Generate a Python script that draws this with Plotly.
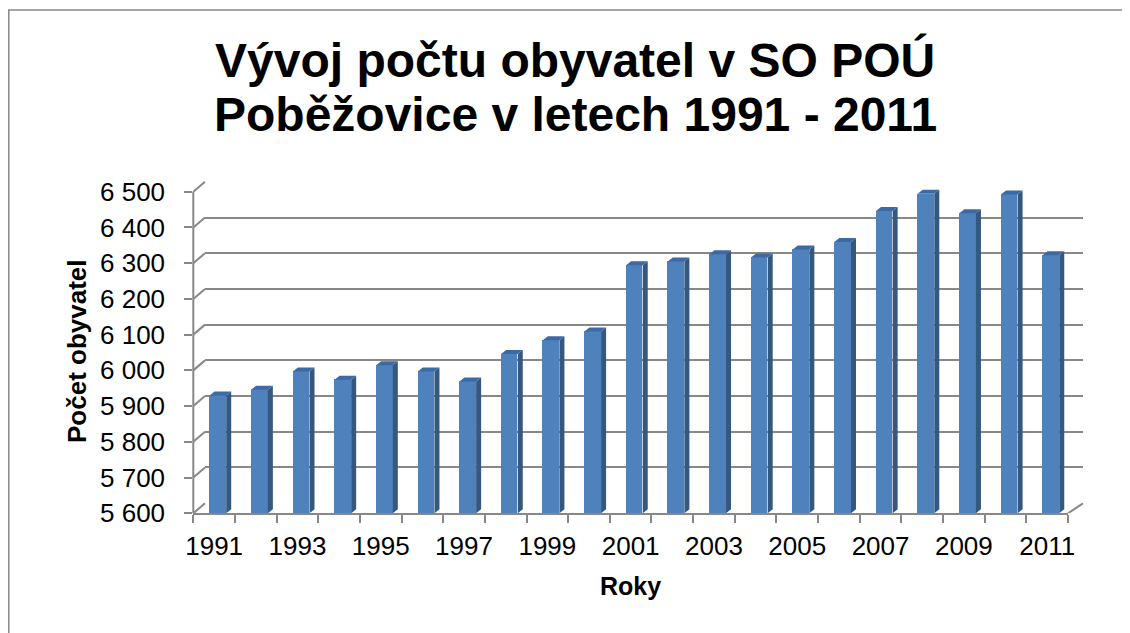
import plotly.graph_objects as go

# ---------------- data ----------------
years = list(range(1991, 2012))
population = [5930, 5946, 5997, 5974, 6014, 5997, 5969, 6046, 6084, 6109,
              6294, 6305, 6325, 6316, 6338, 6359, 6446, 6494, 6440, 6492, 6322]
y_ticks = [5600, 5700, 5800, 5900, 6000, 6100, 6200, 6300, 6400, 6500]
y_tick_labels = ["5 600", "5 700", "5 800", "5 900", "6 000",
                 "6 100", "6 200", "6 300", "6 400", "6 500"]
x_tick_years = years[::2]
x_tick_labels = [str(y) for y in x_tick_years]
title_lines = ["Vývoj počtu obyvatel v SO POÚ", "Poběžovice v letech 1991 - 2011"]
x_title = "Roky"
y_title = "Počet obyvatel"

# ---------------- geometry / style ----------------
W, H = 1130, 633
PAGE_OFF = 8.0                     # default body margin of the html page
FONT = "Liberation Sans, Arial, sans-serif"
GRAY = "#888888"
FRONT = "#4F81BD"
SIDE = "#34587f"
TOP = "#3d6aa3"

FX0, FX1 = 193.3, 1068.0          # front floor edges (page px)
FY_BOT, FY_TOP = 513.3, 191.7     # page px of first / last y tick on the front axis
BACK_DXL, BACK_DXR, BACK_DY = 11.7, 15.0, 10.0
Y_MAX = 6560
BAR_OFF, BAR_W = 0.09, 0.40
SIDE_DX_PX, SIDE_DY_PX = 5.0, 4.0

ppu = (FY_BOT - FY_TOP) / (y_ticks[-1] - y_ticks[0])
front_top_px = FY_BOT - (Y_MAX - y_ticks[0]) * ppu
cat_px = (FX1 - FX0) / len(years)


def fx(px):
    return (px - PAGE_OFF) / W


def fy(py):
    return 1 - (py - PAGE_OFF) / H


dx = SIDE_DX_PX / cat_px
dy = SIDE_DY_PX / ppu

# side and top faces of the pseudo-3D columns, computed from the data
side_x, side_y, top_x, top_y = [], [], [], []
for yr, v in zip(years, population):
    left = yr + BAR_OFF - BAR_W / 2
    right = yr + BAR_OFF + BAR_W / 2
    side_x += [right, right + dx, right + dx, right, right, None]
    side_y += [y_ticks[0], y_ticks[0] + dy, v + dy, v, y_ticks[0], None]
    top_x += [left, right, right + dx, left + dx, left, None]
    top_y += [v, v, v + dy, v + dy, v, None]

fig = go.Figure()

# back wall subplot (xy) - only gridlines
fig.add_trace(go.Scatter(x=[], y=[], xaxis="x", yaxis="y", showlegend=False, hoverinfo="skip"))

# front subplot (x2y2) - columns
fig.add_trace(go.Bar(x=years, y=population, xaxis="x2", yaxis="y2",
                     width=BAR_W, offset=BAR_OFF - BAR_W / 2,
                     marker=dict(color=FRONT, line=dict(width=0)),
                     showlegend=False, hoverinfo="x+y"))
fig.add_trace(go.Scatter(x=side_x, y=side_y, xaxis="x2", yaxis="y2", mode="lines",
                         fill="toself", fillcolor=SIDE, line=dict(width=0, color=SIDE),
                         showlegend=False, hoverinfo="skip"))
fig.add_trace(go.Scatter(x=top_x, y=top_y, xaxis="x2", yaxis="y2", mode="lines",
                         fill="toself", fillcolor=TOP, line=dict(width=0, color=TOP),
                         showlegend=False, hoverinfo="skip"))

shapes = []
# border of the chart area
shapes.append(dict(type="path", xref="paper", yref="paper",
                   path=f"M {0.8 / W},{-0.02} L {0.8 / W},{fy(10)} L 1.02,{fy(10)}",
                   line=dict(color=GRAY, width=1.5)))
# front vertical axis line
shapes.append(dict(type="line", xref="paper", yref="y2",
                   x0=fx(FX0), x1=fx(FX0), y0=y_ticks[0], y1=y_ticks[-1],
                   line=dict(color=GRAY, width=2)))
# left-wall connectors from front ticks to back gridlines
for v in y_ticks:
    shapes.append(dict(type="line", xref="paper", yref="y2",
                       x0=fx(FX0), x1=fx(FX0 + BACK_DXL),
                       y0=v, y1=v + BACK_DY / ppu,
                       line=dict(color=GRAY, width=2)))
# right edge of the floor
shapes.append(dict(type="line", xref="paper", yref="y2",
                   x0=fx(FX1), x1=fx(FX1 + BACK_DXR),
                   y0=y_ticks[0], y1=y_ticks[0] + BACK_DY / ppu,
                   line=dict(color=GRAY, width=2)))

boundaries = [y - 0.5 for y in years] + [years[-1] + 0.5]

annotations = [
    dict(text=title_lines[0], x=fx(575), y=fy(60), xref="paper", yref="paper",
         showarrow=False, xanchor="center", yanchor="middle",
         font=dict(family=FONT, size=48, color="black", weight="bold")),
    dict(text=title_lines[1], x=fx(575), y=fy(115), xref="paper", yref="paper",
         showarrow=False, xanchor="center", yanchor="middle",
         font=dict(family=FONT, size=48, color="black", weight="bold")),
    dict(text=x_title, x=fx(630.5), y=fy(586), xref="paper", yref="paper",
         showarrow=False, xanchor="center", yanchor="middle",
         font=dict(family=FONT, size=25, color="black", weight="bold")),
    dict(text=y_title, x=fx(77), y=fy(351), xref="paper", yref="paper",
         showarrow=False, xanchor="center", yanchor="middle", textangle=-90,
         font=dict(family=FONT, size=26, color="black", weight="bold")),
]

fig.update_layout(
    width=W, height=H,
    margin=dict(l=0, r=0, t=0, b=0),
    paper_bgcolor="white", plot_bgcolor="rgba(0,0,0,0)",
    font=dict(family=FONT, color="black"),
    showlegend=False,
    xaxis=dict(domain=[fx(FX0 + BACK_DXL), fx(FX1 + BACK_DXR)], range=[0, 1],
               visible=False, anchor="y", fixedrange=True),
    yaxis=dict(domain=[fy(FY_BOT - BACK_DY), fy(FY_TOP - BACK_DY)],
               range=[y_ticks[0] - 0.5, y_ticks[-1] + 0.5], anchor="x",
               tickmode="array", tickvals=y_ticks, showticklabels=False,
               showgrid=True, gridcolor=GRAY, gridwidth=2, zeroline=False,
               showline=False, ticks="", automargin=False, fixedrange=True),
    xaxis2=dict(domain=[fx(FX0), fx(FX1)], range=[years[0] - 0.5, years[-1] + 0.5],
                anchor="y2", tickmode="array", tickvals=x_tick_years, ticktext=x_tick_labels,
                ticks="outside", ticklen=8, tickcolor="rgba(0,0,0,0)",
                minor=dict(tickmode="array", tickvals=boundaries, ticks="outside",
                           ticklen=8, tickwidth=2, tickcolor=GRAY, showgrid=False),
                showline=True, linecolor=GRAY, linewidth=2, showgrid=False, zeroline=False,
                tickfont=dict(family=FONT, size=26, color="black"),
                ticklabelstandoff=0, automargin=False, fixedrange=True),
    yaxis2=dict(domain=[fy(FY_BOT), fy(front_top_px)], range=[y_ticks[0], Y_MAX],
                anchor="x2", tickmode="array", tickvals=y_ticks, ticktext=y_tick_labels,
                ticks="outside", ticklen=8, tickwidth=2, tickcolor=GRAY,
                showline=False, showgrid=False, zeroline=False,
                tickfont=dict(family=FONT, size=26, color="black"),
                ticklabelstandoff=14, automargin=False, fixedrange=True),
    shapes=shapes,
    annotations=annotations,
    bargap=0,
)

fig.write_html("out.html")
